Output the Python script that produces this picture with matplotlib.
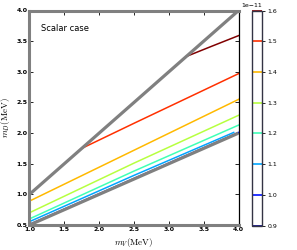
import numpy as np
import matplotlib
matplotlib.use("Agg")
import matplotlib.pyplot as plt
from matplotlib import cm, colors

plt.rcParams["mathtext.fontset"] = "cm"

# contour levels (colour scale), values in units of 1e-11
levels = [0.9e-11, 1.0e-11, 1.1e-11, 1.2e-11, 1.3e-11, 1.4e-11, 1.5e-11, 1.6e-11]

# contour lines: level -> (m_V points, m_D points)
line_levels = [1.0e-11, 1.1e-11, 1.2e-11, 1.3e-11, 1.4e-11, 1.5e-11, 1.6e-11]
line_x = [
    [1.0, 2.5, 4.0],
    [1.0, 2.5, 3.93],
    [1.0, 2.5, 4.0],
    [1.0, 2.5, 4.0],
    [1.0, 2.5, 4.0],
    [1.75, 2.5, 4.0],
    [3.25, 3.6, 4.0],
]
line_y = [
    [0.51, 1.26, 2.01],
    [0.555, 1.31, 2.01],
    [0.60, 1.38, 2.13],
    [0.70, 1.51, 2.29],
    [0.89, 1.72, 2.55],
    [1.75, 2.16, 2.97],
    [3.25, 3.41, 3.59],
]

# boundary lines m_D = m_V and m_D = m_V/2
bound_x = [1.0, 4.0]
upper_y = [1.0, 4.0]
lower_y = [0.5, 2.0]

fig = plt.figure(figsize=(2.97, 2.5), dpi=100)
ax = fig.add_axes([0.0993, 0.1, 0.704, 0.858])
cax = fig.add_axes([0.8475, 0.098, 0.0357, 0.859])

norm = colors.Normalize(vmin=levels[0], vmax=levels[-1])
cmap = plt.get_cmap("jet")

for lev, xs, ys in zip(line_levels, line_x, line_y):
    ax.plot(xs, ys, color=cmap(norm(lev)), lw=1.1, zorder=2)

ax.plot(bound_x, upper_y, color="gray", lw=2.3, zorder=3, solid_capstyle="butt")
ax.plot(bound_x, lower_y, color="gray", lw=2.3, zorder=3, solid_capstyle="butt")

ax.set_xlim(1.0, 4.0)
ax.set_ylim(0.5, 4.0)
ax.set_xticks([1.0, 1.5, 2.0, 2.5, 3.0, 3.5, 4.0])
ax.set_yticks([0.5, 1.0, 1.5, 2.0, 2.5, 3.0, 3.5, 4.0])
ax.tick_params(direction="in", top=True, right=True, length=3, width=0.6,
               labelsize=4.5, pad=1.5)
for lab in ax.get_xticklabels() + ax.get_yticklabels():
    lab.set_fontweight("bold")

for side in ["left", "top", "bottom"]:
    ax.spines[side].set_color("gray")
    ax.spines[side].set_linewidth(2.2)
ax.spines["right"].set_color("black")
ax.spines["right"].set_linewidth(0.9)

ax.set_xlabel(r"$m_V(\rm MeV)$", fontsize=6.5, labelpad=3)
ax.set_ylabel(r"$m_D(\rm MeV)$", fontsize=6.5, labelpad=2)
ax.yaxis.set_label_coords(-0.085, 0.5)
ax.text(0.055, 0.905, "Scalar case", transform=ax.transAxes, fontsize=6,
        va="baseline")

sm = cm.ScalarMappable(norm=norm, cmap=cmap)
cb = fig.colorbar(sm, cax=cax, ticks=levels)
cb.solids.set_visible(False)
cb.add_lines(levels, [cmap(norm(l)) for l in levels], [1.2] * len(levels))
cb.outline.set_edgecolor("#333344")
cb.outline.set_linewidth(1.0)
cax.tick_params(labelsize=4.5, length=2, width=0.6, pad=1.5)
cax.yaxis.get_offset_text().set_fontsize(4.5)

fig.savefig("out.png", dpi=100)
